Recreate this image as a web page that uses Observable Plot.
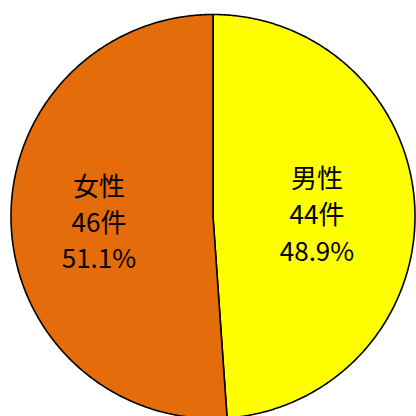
<!DOCTYPE html>
<html>
<head>
<meta charset="utf-8">
<script src="https://cdn.jsdelivr.net/npm/d3@7"></script>
<script src="https://cdn.jsdelivr.net/npm/@observablehq/plot@0.6"></script>
<style>
  html, body { margin: 0; padding: 0; background: #fff; overflow: hidden; }
</style>
</head>
<body>
<div id="chart"></div>
<script>
// 件数（性別）
const categories = ["男性", "女性"];
const counts = [44, 46];
const colors = ["#FFFF00", "#E46C0A"];

const total = d3.sum(counts);
// Angles start at 12 o'clock and run clockwise, in data order
const arcs = d3.pie().sort(null).value(d => d)(counts);

// Each slice outline: centre -> points along the arc -> centre, in unit coordinates
const slicePoints = arcs.flatMap((a, i) => {
  const n = Math.max(2, Math.ceil((a.endAngle - a.startAngle) / (Math.PI / 360)));
  const pts = [{cat: categories[i], x: 0, y: 0}];
  for (let k = 0; k <= n; k++) {
    const t = a.startAngle + (a.endAngle - a.startAngle) * k / n;
    pts.push({cat: categories[i], x: Math.sin(t), y: Math.cos(t)});
  }
  pts.push({cat: categories[i], x: 0, y: 0});
  return pts;
});

// Labels sit on each slice's mid-angle
const labelRadius = 0.54;
const labels = arcs.map((a, i) => {
  const mid = (a.startAngle + a.endAngle) / 2;
  return {
    x: labelRadius * Math.sin(mid),
    y: labelRadius * Math.cos(mid),
    text: `${categories[i]}\n${counts[i]}件\n${(counts[i] / total * 100).toFixed(1)}%`
  };
});

const chart = Plot.plot({
  width: 416,
  height: 416,
  margin: 0,
  x: {domain: [-1, 1], range: [10.5, 414.5], axis: null},
  y: {domain: [-1, 1], range: [418, 14], axis: null},
  color: {domain: categories, range: colors},
  style: {fontFamily: "'Noto Sans CJK JP', sans-serif", background: "white"},
  marks: [
    Plot.line(slicePoints, {
      x: "x", y: "y", z: "cat", fill: "cat",
      stroke: "black", strokeWidth: 1.6, strokeLinejoin: "round", curve: "linear"
    }),
    Plot.text(labels, {
      x: "x", y: "y", text: "text", dx: -5,
      fontSize: 26, lineHeight: 1.4, fill: "black", textAnchor: "middle"
    })
  ]
});

document.getElementById("chart").appendChild(chart);
</script>
</body>
</html>
